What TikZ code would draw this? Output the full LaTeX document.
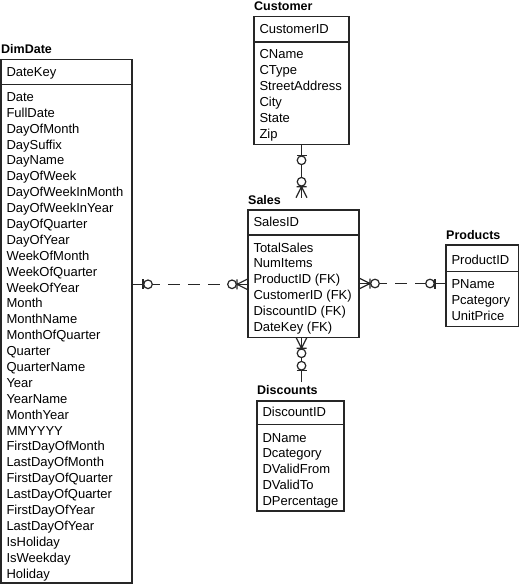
\documentclass[tikz,border=0pt]{standalone}
\usepackage{fontspec}
\setmainfont{Liberation Sans}
\usetikzlibrary{calc}
\begin{document}
\begin{tikzpicture}[x=1pt,y=-1pt,
  ebox/.style={draw=black!85, line width=1.25pt, inner sep=0pt, outer sep=0pt, anchor=north west},
  ttl/.style={font=\fontsize{12.5}{15}\selectfont\bfseries, inner sep=0pt, anchor=base west},
  attr/.style={font=\fontsize{13}{15.9}\selectfont, inner sep=0pt, anchor=base west},
  rel/.style={draw=black!85, line width=1.2pt},
  reldash/.style={draw=black!85, line width=1.2pt, dash pattern=on 12pt off 8pt},
  zeroone/.pic={\draw[rel] (11,-5) -- (11,5); \draw[rel, fill=white] (16,0) circle[radius=4.3pt];},
  zeromany/.pic={\draw[rel] (0,-5.5) -- (11,0) -- (0,5.5) (11,-5) -- (11,5); \draw[rel, fill=white] (16,0) circle[radius=4.3pt];}
]
\useasboundingbox (0,0) rectangle (520,585);

% ---------------- Customer
\node[ttl] (custT) at (254,10.5) {Customer};
\node[ebox, minimum width=95pt, minimum height=25.3pt] (custh) at (254,16.7) {};
\node[ebox, minimum width=95pt, minimum height=102.3pt] (custb) at (custh.south west) {};
\node[attr] (custK) at (259.3,34) {CustomerID};
\foreach \t [count=\i from 0] in {CName,CType,StreetAddress,City,State,Zip}
  \node[attr, name=ca\i] at (259.3,{59+15.9*\i}) {\t};

% ---------------- DimDate
\node[ttl] (dimT) at (1,53.5) {DimDate};
\node[ebox, minimum width=131pt, minimum height=25pt] (dimh) at (1,59.3) {};
\node[ebox, minimum width=131pt, minimum height=498.7pt] (dimb) at (dimh.south west) {};
\node[attr] (dimK) at (6.3,76.4) {DateKey};
\foreach \t [count=\i from 0] in {Date,FullDate,DayOfMonth,DaySuffix,DayName,DayOfWeek,DayOfWeekInMonth,DayOfWeekInYear,DayOfQuarter,DayOfYear,WeekOfMonth,WeekOfQuarter,WeekOfYear,Month,MonthName,MonthOfQuarter,Quarter,QuarterName,Year,YearName,MonthYear,MMYYYY,FirstDayOfMonth,LastDayOfMonth,FirstDayOfQuarter,LastDayOfQuarter,FirstDayOfYear,LastDayOfYear,IsHoliday,IsWeekday,Holiday}
  \node[attr, name=da\i] at (6.3,{101.4+15.89*\i}) {\t};

% ---------------- Sales
\node[ttl] (salesT) at (248,204.5) {Sales};
\node[ebox, minimum width=111pt, minimum height=25pt] (salesh) at (248,210) {};
\node[ebox, minimum width=111pt, minimum height=102.3pt] (salesb) at (salesh.south west) {};
\node[attr] (salesK) at (253.3,226.4) {SalesID};
\foreach \t [count=\i from 0] in {TotalSales,NumItems,ProductID (FK),CustomerID (FK),DiscountID (FK),DateKey (FK)}
  \node[attr, name=sa\i] at (253.3,{252+15.87*\i}) {\t};

% ---------------- Products
\node[ttl] (prodT) at (446,239.5) {Products};
\node[ebox, minimum width=72.3pt, minimum height=26.7pt] (prodh) at (446,245) {};
\node[ebox, minimum width=72.3pt, minimum height=54.8pt] (prodb) at (prodh.south west) {};
\node[attr] (prodK) at (451.3,264) {ProductID};
\foreach \t [count=\i from 0] in {PName,Pcategory,UnitPrice}
  \node[attr, name=pa\i] at (451.3,{288.7+15.9*\i}) {\t};

% ---------------- Discounts
\node[ttl] (discT) at (257,394.5) {Discounts};
\node[ebox, minimum width=87pt, minimum height=23.3pt] (disch) at (257,401) {};
\node[ebox, minimum width=87pt, minimum height=86.7pt] (discb) at (disch.south west) {};
\node[attr] (discK) at (262.3,416.7) {DiscountID};
\foreach \t [count=\i from 0] in {DName,Dcategory,DValidFrom,DValidTo,DPercentage}
  \node[attr, name=xa\i] at (262.3,{442+15.9*\i}) {\t};

% ---------------- Relationships
\coordinate (csEnd) at ($(custb.south |- salesT.north)+(0,2.5)$);
\draw[rel] (custb.south) -- (csEnd);
\pic[rotate=-90] at (custb.south) {zeroone};
\pic[rotate=90] at (csEnd) {zeromany};

\coordinate (sdStart) at (salesb.south -| custb.south);
\coordinate (sdEnd) at ($(custb.south |- discT.north)+(0,-3.5)$);
\draw[rel] (sdStart) -- (sdEnd);
\pic[rotate=-90] at (sdStart) {zeromany};
\pic[rotate=90] at (sdEnd) {zeroone};

\coordinate (y1) at (0,284.3);
\coordinate (dsA) at (dimb.east |- y1);
\coordinate (dsB) at (salesb.west |- y1);
\draw[rel] (dsA) -- ($(dsA)+(16,0)$);
\draw[rel] (dsB) -- ($(dsB)+(-16,0)$);
\draw[reldash] ($(dsA)+(16,0)$) -- ($(dsB)+(-16,0)$);
\pic at (dsA) {zeroone};
\pic[rotate=180] at (dsB) {zeromany};

\coordinate (y2) at (0,283.5);
\coordinate (spA) at (salesb.east |- y2);
\coordinate (spB) at (prodb.west |- y2);
\draw[rel] (spA) -- ($(spA)+(16,0)$);
\draw[rel] (spB) -- ($(spB)+(-16,0)$);
\draw[reldash] ($(spA)+(16,0)$) -- ($(spB)+(-16,0)$);
\pic at (spA) {zeromany};
\pic[rotate=180] at (spB) {zeroone};
\end{tikzpicture}
\end{document}
